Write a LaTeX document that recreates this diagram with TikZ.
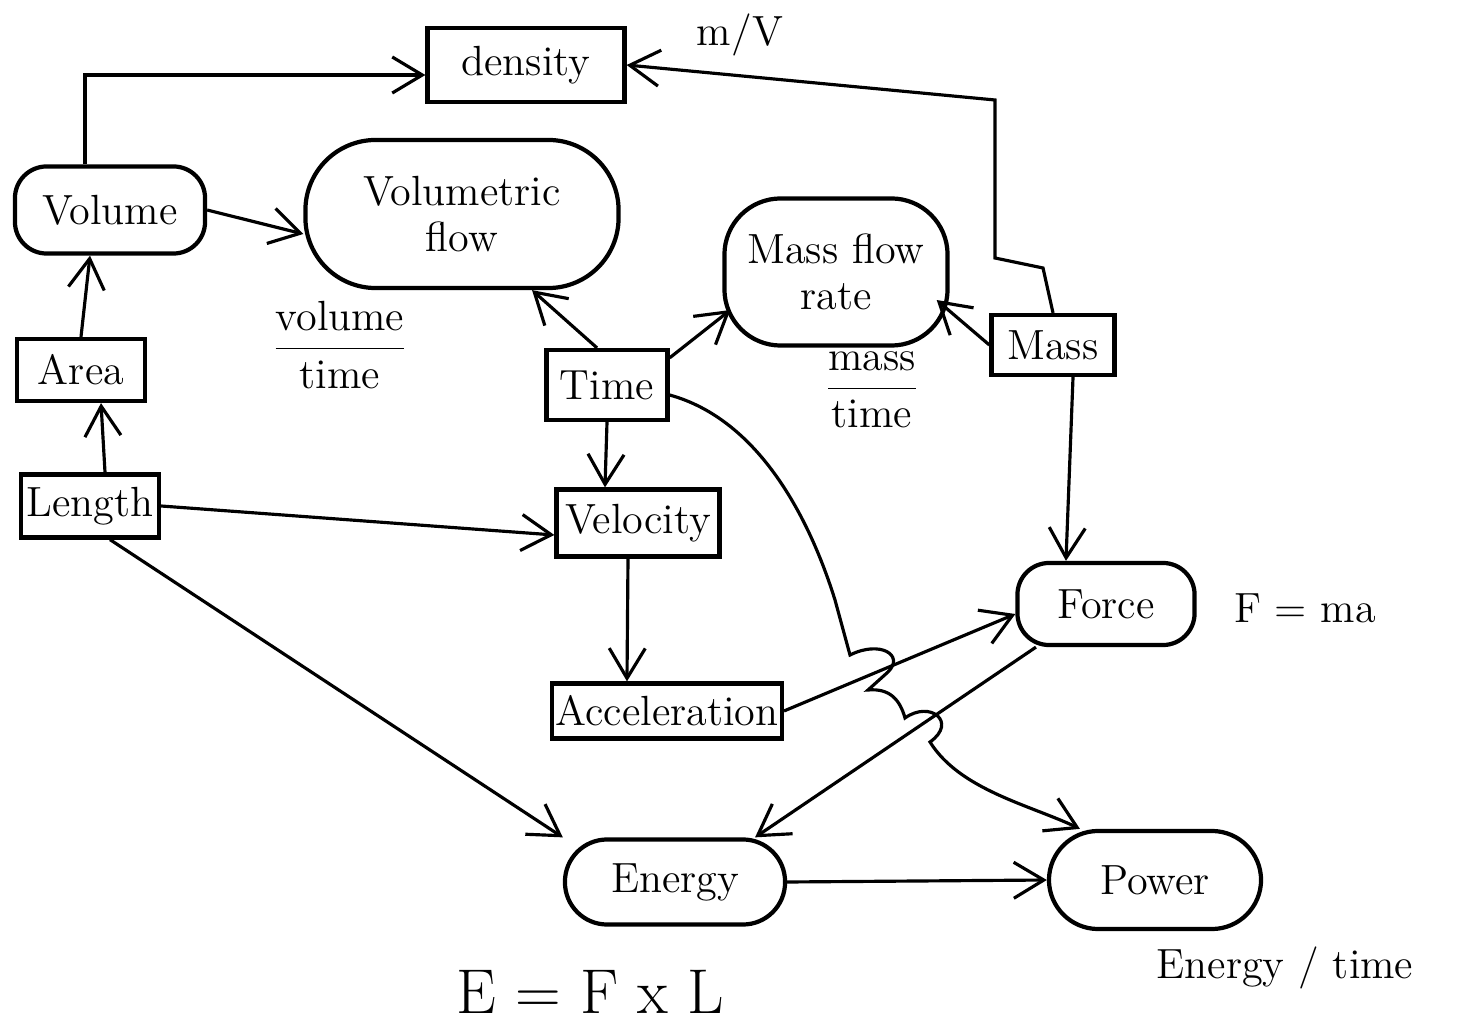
\documentclass[tikz,border=0pt]{standalone}
\usetikzlibrary{arrows.meta}
\begin{document}
\begin{tikzpicture}[x=0.01cm,y=-0.01cm,
    box/.style={draw,line width=1.2pt,inner sep=1pt,align=center,font=\fontsize{12}{13}\selectfont},
    roundbox/.style={box,rounded corners=9pt},
    oval/.style={box,rounded corners=13pt},
    arr/.style={-{Straight Barb[length=3mm,width=3.6mm]},line width=0.9pt},
    note/.style={font=\fontsize{12}{14}\selectfont}]
    \useasboundingbox (0,0) rectangle (1467,1028);
    % quantities
    \node[box,minimum width=1.97cm,minimum height=0.74cm] (density) at (526,65) {density};
    \node[roundbox,minimum width=1.9cm,minimum height=0.87cm] (volume) at (110,210) {Volume};
    \node[roundbox,rounded corners=20pt,minimum width=3.13cm,minimum height=1.48cm] (volflow) at (462,214) {Volumetric\\flow};
    \node[roundbox,rounded corners=16pt,minimum width=2.23cm,minimum height=1.47cm] (massflow) at (836,272) {Mass flow\\rate};
    \node[box,minimum width=1.28cm,minimum height=0.62cm] (area) at (81,370) {Area};
    \node[box,minimum width=1.21cm,minimum height=0.7cm] (time) at (607,385) {Time};
    \node[box,minimum width=1.23cm,minimum height=0.6cm] (mass) at (1053,345) {Mass};
    \node[box,minimum width=1.38cm,minimum height=0.63cm] (length) at (90,506) {Length};
    \node[box,minimum width=1.63cm,minimum height=0.67cm] (velocity) at (638,523) {Velocity};
    \node[box,minimum width=2.22cm,minimum height=0.55cm] (accel) at (667,711) {Acceleration};
    \node[roundbox,minimum width=1.77cm,minimum height=0.82cm] (force) at (1106,604) {Force};
    \node[oval,rounded corners=12pt,minimum width=2.2cm,minimum height=0.85cm] (energy) at (675,882) {Energy};
    \node[oval,rounded corners=14pt,minimum width=2.12cm,minimum height=0.98cm] (power) at (1155,880) {Power};
    % formulas
    \node[note] (mv) at (740,35) {m/V};
    \node[note] (vt) at (340,345) {$\displaystyle\frac{\textrm{volume}}{\textrm{time}}$};
    \node[note] (mt) at (872,390) {$\displaystyle\frac{\textrm{mass}}{\textrm{time}}$};
    \node[note] (fma) at (1305,608) {F = ma};
    \node[note] (et) at (1285,968) {Energy / time};
    \node[note,font=\fontsize{18}{20}\selectfont] (efl) at (590,992) {E = F x L};
    % links
    \draw[arr] ([xshift=-0.25cm]volume.north) |- ([yshift=-0.1cm]density.west);
    \draw[arr] (mass.north) -- (1043,268) -- (995,258) -- (995,100) -- (density.east);
    \draw[arr] (volume.east) -- ([yshift=-0.2cm]volflow.west);
    \draw[arr] (area.north) -- ([xshift=-0.2cm]volume.south);
    \draw[arr] ([xshift=0.15cm]length.north) -- ([xshift=0.2cm]area.south);
    \draw[arr] (length.east) -- ([yshift=-0.12cm]velocity.west);
    \draw[arr] ([xshift=0.2cm]length.south) -- (energy.north west);
    \draw[arr] ([xshift=-0.1cm]time.north) -- ([xshift=0.7cm]volflow.south);
    \draw[arr] ([yshift=-0.1cm]time.north east) -- ([xshift=0.08cm,yshift=-0.38cm]massflow.west);
    \draw[arr] (time.south) -- ([xshift=-0.33cm]velocity.north);
    \draw[arr] (mass.west) -- ([xshift=-0.13cm,yshift=-0.28cm]massflow.east);
    \draw[arr] ([xshift=0.2cm]mass.south) -- ([xshift=-0.4cm]force.north);
    \draw[arr] ([xshift=-0.1cm]velocity.south) -- ([xshift=-0.4cm]accel.north);
    \draw[arr] (accel.east) -- ([yshift=-0.1cm]force.west);
    \draw[arr] ([xshift=-0.7cm]force.south) -- ([xshift=0.8cm]energy.north);
    \draw[arr] (energy.east) -- (power.west);
    \draw[arr] ([yshift=-0.1cm]time.east) .. controls (760,420) and (810,520) .. (835,600)
        -- (850,655) .. controls (880,640) and (905,655) .. (888,672) -- (868,690)
        .. controls (890,688) and (900,700) .. (905,718)
        .. controls (930,700) and (958,722) .. (930,742)
        .. controls (960,790) and (1030,805) .. ([xshift=-0.75cm]power.north);
\end{tikzpicture}
\end{document}
